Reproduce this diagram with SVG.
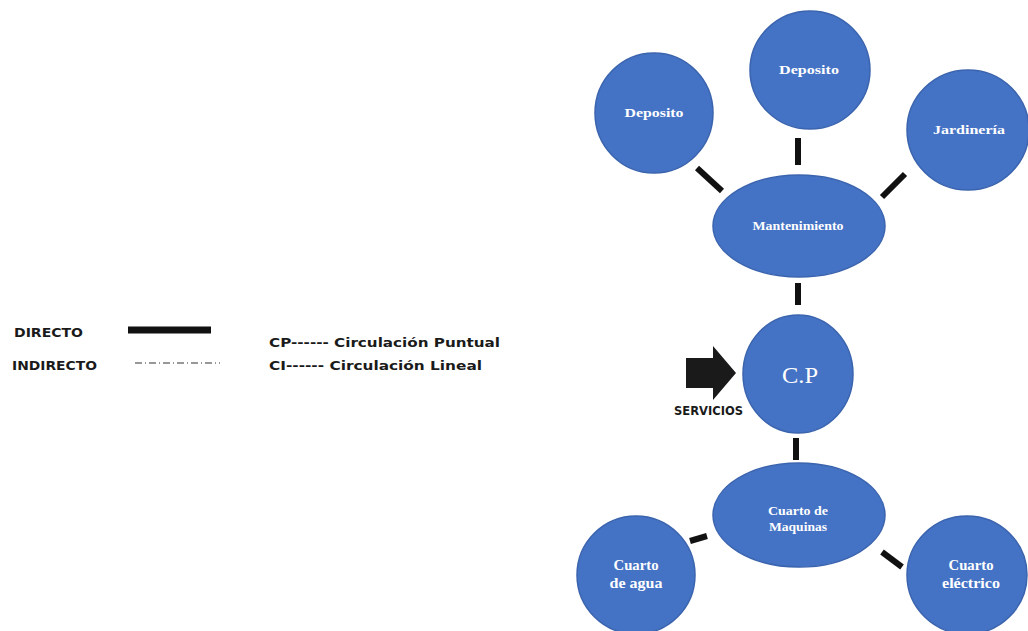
<svg xmlns="http://www.w3.org/2000/svg" width="1028" height="631" viewBox="0 0 1028 631">
<style>
.n{fill:#4472c4;stroke:#3b64ae;stroke-width:1.5}
.t{fill:#ffffff;font-family:"Liberation Serif",serif;font-weight:bold;text-anchor:middle}
.r{font-weight:normal}
.c{stroke:#111;stroke-width:6;stroke-linecap:butt}
.lg{fill:#1a1a1a;font-family:"DejaVu Sans",sans-serif;font-weight:bold;font-size:12px}
</style>
<rect width="1028" height="631" fill="#ffffff"/>
<g id="legend">
<text class="lg" x="14" y="337" textLength="69" lengthAdjust="spacingAndGlyphs">DIRECTO</text>
<text class="lg" x="12" y="370" textLength="85" lengthAdjust="spacingAndGlyphs">INDIRECTO</text>
<line x1="128" y1="330" x2="211" y2="330" stroke="#111" stroke-width="7"/>
<line x1="135" y1="363" x2="220" y2="363" stroke="#777" stroke-width="1.3" stroke-dasharray="7,3,1,3"/>
<text class="lg" x="269" y="347" font-size="13" textLength="231" lengthAdjust="spacingAndGlyphs">CP------ Circulación Puntual</text>
<text class="lg" x="269" y="370" font-size="13" textLength="213" lengthAdjust="spacingAndGlyphs">CI------ Circulación Lineal</text>
</g>
<g id="connectors">
<line class="c" x1="697" y1="168" x2="722" y2="191"/>
<line class="c" x1="798" y1="138" x2="798" y2="165"/>
<line class="c" x1="905" y1="174" x2="882" y2="197"/>
<line class="c" x1="798" y1="283" x2="798" y2="305"/>
<line class="c" x1="796" y1="438" x2="796" y2="460"/>
<line class="c" x1="690" y1="541" x2="707" y2="536"/>
<line class="c" x1="882" y1="552" x2="902" y2="567"/>
</g>
<g id="n-deposito1"><ellipse class="n" cx="654" cy="113" rx="59" ry="60"/><text class="t" x="654" y="117" font-size="13" textLength="59" lengthAdjust="spacingAndGlyphs">Deposito</text></g>
<g id="n-deposito2"><ellipse class="n" cx="810" cy="70" rx="60" ry="59"/><text class="t" x="809" y="74" font-size="13" textLength="60" lengthAdjust="spacingAndGlyphs">Deposito</text></g>
<g id="n-jardineria"><ellipse class="n" cx="968" cy="130" rx="61" ry="60"/><text class="t" x="969" y="134" font-size="13" textLength="72" lengthAdjust="spacingAndGlyphs">Jardinería</text></g>
<g id="n-mantenimiento"><ellipse class="n" cx="799" cy="226" rx="86" ry="51"/><text class="t" x="798" y="230" font-size="12" textLength="91" lengthAdjust="spacingAndGlyphs">Mantenimiento</text></g>
<g id="n-cp"><ellipse class="n" cx="798" cy="374" rx="55" ry="59"/><text class="t r" x="800" y="383" font-size="23" textLength="36" lengthAdjust="spacingAndGlyphs">C.P</text></g>
<g id="n-maquinas"><ellipse class="n" cx="799" cy="515" rx="86" ry="52"/><text class="t" x="798" y="515" font-size="12" textLength="60" lengthAdjust="spacingAndGlyphs">Cuarto de</text><text class="t" x="798" y="531" font-size="12" textLength="58" lengthAdjust="spacingAndGlyphs">Maquinas</text></g>
<g id="n-agua"><ellipse class="n" cx="636" cy="575" rx="59" ry="59"/><text class="t" x="636" y="570" font-size="14" textLength="45" lengthAdjust="spacingAndGlyphs">Cuarto</text><text class="t" x="636" y="588" font-size="14" textLength="53" lengthAdjust="spacingAndGlyphs">de agua</text></g>
<g id="n-electrico"><ellipse class="n" cx="967" cy="575" rx="60" ry="59"/><text class="t" x="971" y="570" font-size="14" textLength="45" lengthAdjust="spacingAndGlyphs">Cuarto</text><text class="t" x="971" y="588" font-size="14" textLength="58" lengthAdjust="spacingAndGlyphs">eléctrico</text></g>
<g id="servicios">
<polygon points="686,358 713,358 713,346 736,373 713,400 713,388 686,388" fill="#1a1a1a"/>
<text class="lg" x="674" y="415" font-size="12" textLength="69" lengthAdjust="spacingAndGlyphs">SERVICIOS</text>
</g>
</svg>
